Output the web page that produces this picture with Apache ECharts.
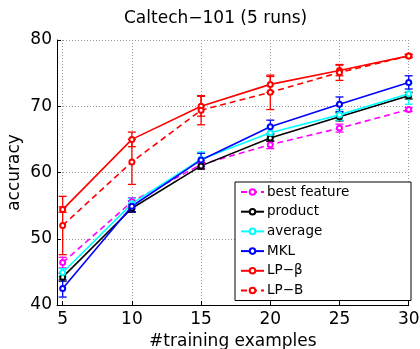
<!DOCTYPE html>
<html>
<head>
<meta charset="utf-8">
<script src="https://cdn.jsdelivr.net/npm/echarts@6/dist/echarts.min.js"></script>
<style>
  html, body { margin: 0; padding: 0; background: #fff; }
  #chart { width: 420px; height: 349px; }
</style>
</head>
<body>
<div id="chart"></div>
<script>
// training examples per class
const xValues = [5, 10, 15, 20, 25, 30]
const xTicks = [5, 10, 15, 20, 25, 30]

// mean accuracy and error (std) per method
const bestFeature = [46.4, 55.6, 61.2, 64.2, 66.7, 69.5]
const bestFeatureErr = [0.8, 0.6, 0.6, 0.6, 0.6, 0.3]
const product = [44.2, 54.6, 61.0, 65.2, 68.4, 71.6]
const productErr = [0.6, 0.6, 0.5, 0.5, 0.6, 0.5]
const average = [44.9, 55.3, 62.0, 66.0, 68.7, 71.9]
const averageErr = [0.6, 0.8, 1.1, 0.8, 0.8, 1.6]
const mkl = [42.5, 54.9, 61.9, 66.9, 70.3, 73.6]
const mklErr = [1.3, 0.8, 1.0, 1.0, 1.1, 1.0]
const lpBeta = [54.4, 65.0, 70.0, 73.3, 75.4, 77.6]
const lpBetaErr = [0.4, 1.1, 1.5, 1.2, 0.8, 0.25]
const lpB = [52.0, 61.6, 69.4, 72.1, 75.1, 77.6]
const lpBErr = [4.4, 3.4, 2.2, 2.6, 1.2, 0.2]

const font = 'DejaVu Sans, Liberation Sans, Arial, sans-serif'

const methods = [
  { name: 'best feature', mean: bestFeature, err: bestFeatureErr, color: '#ff00ff', dash: [6, 4] },
  { name: 'product', mean: product, err: productErr, color: '#000000', dash: 'solid' },
  { name: 'average', mean: average, err: averageErr, color: '#00ffff', dash: 'solid' },
  { name: 'MKL', mean: mkl, err: mklErr, color: '#0000ff', dash: 'solid' },
  { name: 'LP\u2212\u03b2', mean: lpBeta, err: lpBetaErr, color: '#ff0000', dash: 'solid' },
  { name: 'LP\u2212B', mean: lpB, err: lpBErr, color: '#ff0000', dash: [6, 4] }
]

// error bar: vertical line with small caps
function errorBar (color) {
  return function (params, api) {
    const x = api.value(0)
    const lo = api.coord([x, api.value(1)])
    const hi = api.coord([x, api.value(2)])
    const w = 4
    const style = { stroke: color, lineWidth: 1.3 }
    return {
      type: 'group',
      children: [
        { type: 'line', shape: { x1: lo[0], y1: lo[1], x2: hi[0], y2: hi[1] }, style: style },
        { type: 'line', shape: { x1: lo[0] - w, y1: lo[1], x2: lo[0] + w, y2: lo[1] }, style: style },
        { type: 'line', shape: { x1: hi[0] - w, y1: hi[1], x2: hi[0] + w, y2: hi[1] }, style: style }
      ]
    }
  }
}

const series = []
methods.forEach(m => {
  series.push({
    name: m.name + ' err',
    type: 'custom',
    renderItem: errorBar(m.color),
    data: xValues.map((x, i) => [x, m.mean[i] - m.err[i], m.mean[i] + m.err[i]]),
    silent: true,
    z: 2
  })
  series.push({
    name: m.name,
    type: 'line',
    data: xValues.map((x, i) => [x, m.mean[i]]),
    symbol: 'emptyCircle',
    symbolSize: 5,
    color: m.color,
    lineStyle: { color: m.color, width: 1.6, type: m.dash },
    itemStyle: { color: m.color, borderWidth: 1 },
    animation: false,
    z: 3
  })
})

const chart = echarts.init(document.getElementById('chart'))
chart.setOption({
  animation: false,
  title: {
    text: 'Caltech\u2212101 (5 runs)',
    left: 119,
    top: 5,
    textStyle: { fontFamily: font, fontSize: 17, fontWeight: 'normal', color: '#000' }
  },
  legend: {
    data: methods.map(m => m.name),
    orient: 'vertical',
    left: 235,
    top: 182,
    padding: [3, 4, 3, 5],
    itemGap: 5.7,
    itemWidth: 23,
    itemHeight: 7,
    borderColor: '#000',
    borderWidth: 1,
    backgroundColor: '#fff',
    selectedMode: false,
    textStyle: { fontFamily: font, fontSize: 13.5, color: '#000', lineHeight: 14, width: 140, padding: [0, 0, 0, -2] }
  },
  grid: { left: 57, right: 11.3, top: 40, bottom: 44, outerBoundsMode: 'none' },
  xAxis: {
    type: 'value',
    min: 4.59,
    max: 30,
    name: '#training examples',
    nameLocation: 'middle',
    nameGap: 28,
    nameMoveOverlap: false,
    nameTextStyle: { fontFamily: font, fontSize: 17, color: '#000' },
    axisLine: { lineStyle: { color: '#000', width: 1 } },
    axisTick: { inside: true, length: 4, customValues: xTicks, lineStyle: { color: '#000' } },
    axisLabel: { customValues: xTicks, fontFamily: font, fontSize: 17, color: '#000', margin: 6 },
    splitLine: { show: true, lineStyle: { color: '#999', type: [1, 2] } }
  },
  yAxis: {
    type: 'value',
    min: 40,
    max: 80,
    interval: 10,
    name: 'accuracy',
    nameLocation: 'middle',
    nameGap: 34,
    nameMoveOverlap: false,
    nameTextStyle: { fontFamily: font, fontSize: 17, color: '#000' },
    axisLine: { show: true, lineStyle: { color: '#000', width: 1 } },
    axisTick: { show: true, inside: true, length: 4, lineStyle: { color: '#000' } },
    axisLabel: { fontFamily: font, fontSize: 17, color: '#000', margin: 5 },
    splitLine: { show: true, lineStyle: { color: '#999', type: [1, 2] } }
  },
  series: series
})
</script>
</body>
</html>
